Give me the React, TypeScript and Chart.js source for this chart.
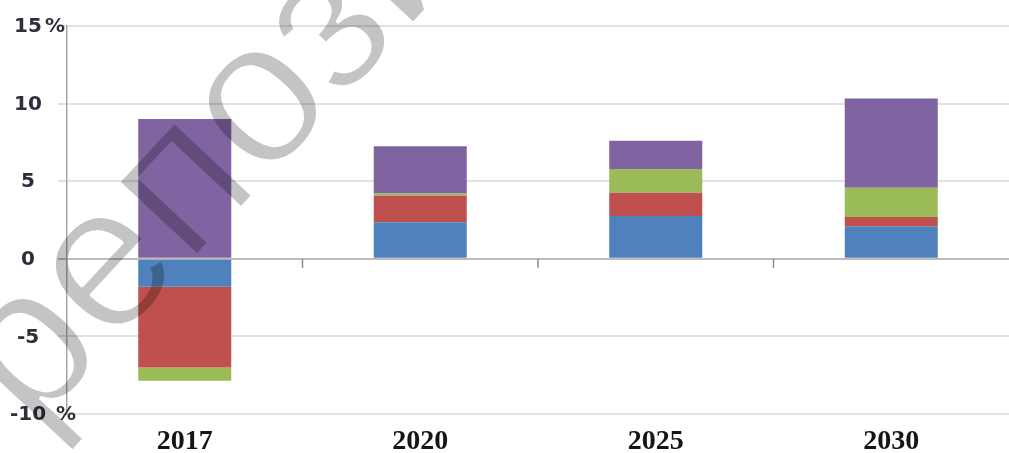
import React, { useEffect, useRef } from "react";
import { Chart, registerables } from "chart.js";

Chart.register(...registerables);

const categories = ["2017", "2020", "2025", "2030"];
const blueSeries = [-1.8, 2.35, 2.75, 2.1];
const redSeries = [-5.2, 1.72, 1.5, 0.6];
const greenSeries = [-0.85, 0.13, 1.53, 1.87];
const purpleSeries = [9.0, 3.05, 1.82, 5.76];

const yTickValues = [-10, -5, 0, 5, 10, 15];
const yTickLabels = ["-10", "-5", "0", "5", "10", "15"];
const yTickSuffixes = [" %", "", "", "", "", "%"];

const watermarkText = "репозиторий";

const yLabelsPlugin = {
  id: "yLabels",
  afterDraw(chart: any) {
    const { ctx, scales } = chart;
    const y = scales.y;
    ctx.save();
    ctx.font = "bold 20px 'DejaVu Sans'";
    ctx.fillStyle = "#2e2e3c";
    ctx.textBaseline = "middle";
    yTickValues.forEach((v, i) => {
      const py = y.getPixelForValue(v) + 1;
      const label = yTickLabels[i];
      const w = ctx.measureText(label).width;
      const cx = 28;
      ctx.textAlign = "left";
      ctx.fillText(label, cx - w / 2, py);
      if (yTickSuffixes[i]) {
        ctx.fillText(yTickSuffixes[i], cx + w / 2 + 3, py);
      }
    });
    ctx.restore();
  },
};

const zeroTicksPlugin = {
  id: "zeroTicks",
  afterDatasetsDraw(chart: any) {
    const { ctx, scales } = chart;
    const x = scales.x;
    const y = scales.y;
    const y0 = y.getPixelForValue(0);
    ctx.save();
    ctx.strokeStyle = "#8a8a8a";
    ctx.lineWidth = 1.5;
    for (let i = 0; i < categories.length - 1; i++) {
      const px = (x.getPixelForValue(i) + x.getPixelForValue(i + 1)) / 2;
      ctx.beginPath();
      ctx.moveTo(px, y0);
      ctx.lineTo(px, y0 + 9);
      ctx.stroke();
    }
    ctx.restore();
  },
};

const watermarkPlugin = {
  id: "watermark",
  afterDraw(chart: any) {
    const { ctx, width, height } = chart;
    const off = document.createElement("canvas");
    off.width = width;
    off.height = height;
    const o = off.getContext("2d");
    if (!o) return;
    o.translate(32, 433);
    o.rotate((-47 * Math.PI) / 180);
    o.font = "205px 'Liberation Sans'";
    o.textAlign = "left";
    o.textBaseline = "alphabetic";
    o.fillStyle = "#000";
    o.fillText(watermarkText, 0, 0);
    o.globalCompositeOperation = "destination-out";
    o.lineWidth = 4;
    o.lineJoin = "round";
    o.strokeStyle = "#000";
    o.strokeText(watermarkText, 0, 0);
    ctx.save();
    ctx.globalAlpha = 0.23;
    ctx.drawImage(off, 0, 0);
    ctx.restore();
  },
};

export default function App() {
  const canvasRef = useRef<HTMLCanvasElement | null>(null);

  useEffect(() => {
    if (!canvasRef.current) return;
    const chart = new Chart(canvasRef.current, {
      type: "bar",
      data: {
        labels: categories,
        datasets: [
          { label: "blue", data: blueSeries, backgroundColor: "#4F81BD" },
          { label: "red", data: redSeries, backgroundColor: "#C0504D" },
          { label: "green", data: greenSeries, backgroundColor: "#9BBB59" },
          { label: "purple", data: purpleSeries, backgroundColor: "#8064A2" },
        ],
      },
      options: {
        responsive: false,
        animation: false,
        layout: { padding: { top: 26, left: 0, right: 0, bottom: 0 } },
        datasets: {
          bar: { barPercentage: 0.395, categoryPercentage: 1.0, borderWidth: 0 },
        },
        plugins: {
          legend: { display: false },
          tooltip: { enabled: false },
        },
        scales: {
          x: {
            stacked: true,
            grid: { display: false },
            border: { display: false },
            ticks: {
              font: { family: "'Liberation Serif'", size: 28, weight: "bold" },
              color: "#151515",
              padding: 3,
              maxRotation: 0,
            },
            afterFit: (scale: any) => {
              scale.height = 39;
            },
          },
          y: {
            stacked: true,
            min: -10,
            max: 15,
            ticks: { display: false, stepSize: 5 },
            grid: {
              color: (c: any) => (c.tick && c.tick.value === 0 ? "#bdbdbd" : "#e2e2e2"),
              lineWidth: 2,
              drawTicks: true,
              tickLength: 9,
            },
            border: { display: true, color: "#a8a8a8", width: 1.5 },
            afterFit: (scale: any) => {
              scale.width = 67;
            },
          },
        },
      },
      plugins: [zeroTicksPlugin, yLabelsPlugin, watermarkPlugin],
    });
    return () => chart.destroy();
  }, []);

  return (
    <div style={{ position: "fixed", left: 0, top: 0, width: 1009, height: 453, background: "#fff" }}>
      <canvas ref={canvasRef} width={1009} height={453} style={{ display: "block" }} />
    </div>
  );
}
